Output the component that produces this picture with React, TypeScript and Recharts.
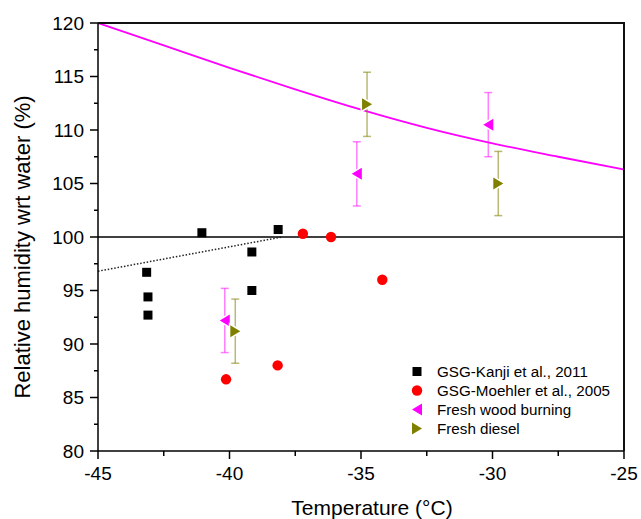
import React from "react";
import {
  ComposedChart,
  Scatter,
  Line,
  XAxis,
  YAxis,
  ReferenceLine,
  ErrorBar,
  Label,
  Legend,
} from "recharts";

// values
const kanjiTemp = [-43.15, -43.1, -43.1, -41.05, -39.15, -39.15, -38.15];
const kanjiRH = [96.7, 94.4, 92.7, 100.4, 98.6, 95.0, 100.7];

const moehlerTemp = [-40.13, -38.17, -37.21, -36.14, -34.19];
const moehlerRH = [86.7, 88.0, 100.3, 100.0, 96.0];

const woodTemp = [-40.18, -35.16, -30.16];
const woodRH = [92.2, 105.9, 110.5];
const woodErr = [3, 3, 3];

const dieselTemp = [-39.78, -34.77, -29.78];
const dieselRH = [91.2, 112.4, 105.0];
const dieselErr = [3, 3, 3];

const curveTemp = [-45, -42.5, -40, -37.5, -35, -32.5, -30, -27.5, -25];
const curveRH = [120, 117.9, 115.8, 113.8, 111.9, 110.2, 108.75, 107.5, 106.3];

const fitTemp = [-45, -38];
const fitRH = [96.8, 100];

const xTicks = [-45, -42.5, -40, -37.5, -35, -32.5, -30, -27.5, -25];
const yTicks = [80, 82.5, 85, 87.5, 90, 92.5, 95, 97.5, 100, 102.5, 105, 107.5, 110, 112.5, 115, 117.5, 120];

const zip = (xs: number[], ys: number[], errs?: number[]) =>
  xs.map((x, i) => ({ x, y: ys[i], err: errs ? errs[i] : 0 }));

const kanji = zip(kanjiTemp, kanjiRH);
const moehler = zip(moehlerTemp, moehlerRH);
const wood = zip(woodTemp, woodRH, woodErr);
const diesel = zip(dieselTemp, dieselRH, dieselErr);
const curve = zip(curveTemp, curveRH);
const fit = zip(fitTemp, fitRH);

const MAGENTA = "#ff00ff";
const OLIVE = "#808000";

const W = 641;
const H = 519;
const MARGIN = { top: 23, right: 17, left: 0, bottom: 0 };
const Y_AXIS_W = 98;
const X_AXIS_H = 68;

const SquareShape = (p: any) => (
  <rect x={p.cx - 4.5} y={p.cy - 4.5} width={9} height={9} fill="#000" />
);
const CircleShape = (p: any) => <circle cx={p.cx} cy={p.cy} r={5.2} fill="#ff0000" />;
const LeftTri = (p: any) => (
  <polygon
    points={`${p.cx - 5},${p.cy} ${p.cx + 5},${p.cy - 6} ${p.cx + 5},${p.cy + 6}`}
    fill={MAGENTA}
    stroke="#fff"
    strokeWidth={3}
    paintOrder="stroke"
  />
);
const RightTri = (p: any) => (
  <polygon
    points={`${p.cx + 5},${p.cy} ${p.cx - 5},${p.cy - 6} ${p.cx - 5},${p.cy + 6}`}
    fill={OLIVE}
    stroke="#fff"
    strokeWidth={3}
    paintOrder="stroke"
  />
);

const XTick = ({ x, y, payload }: any) => {
  const major = payload.value % 5 === 0;
  return (
    <g>
      <line x1={x} y1={y} x2={x} y2={y + (major ? 8 : 5)} stroke="#000" strokeWidth={1.5} />
      {major && (
        <text x={x} y={y + 29} textAnchor="middle" fontSize={19} fill="#000">
          {payload.value}
        </text>
      )}
    </g>
  );
};

const YTick = ({ x, y, payload }: any) => {
  const major = payload.value % 5 === 0;
  return (
    <g>
      <line x1={x - (major ? 8 : 4)} y1={y} x2={x} y2={y} stroke="#000" strokeWidth={1.5} />
      {major && (
        <text x={x - 14} y={y} dy="0.35em" textAnchor="end" fontSize={19} fill="#000">
          {payload.value}
        </text>
      )}
    </g>
  );
};

const legendItems = [
  { name: "GSG-Kanji et al., 2011", kind: "square" },
  { name: "GSG-Moehler et al., 2005", kind: "circle" },
  { name: "Fresh wood burning", kind: "left" },
  { name: "Fresh diesel", kind: "right" },
];

const LegendMarker = ({ kind }: { kind: string }) => {
  const cx = 10;
  const cy = 9.5;
  if (kind === "square") return <rect x={cx - 4.5} y={cy - 4.5} width={9} height={9} fill="#000" />;
  if (kind === "circle") return <circle cx={cx} cy={cy} r={5.2} fill="#ff0000" />;
  if (kind === "left")
    return <polygon points={`${cx - 5},${cy} ${cx + 5},${cy - 6} ${cx + 5},${cy + 6}`} fill={MAGENTA} />;
  return <polygon points={`${cx + 5},${cy} ${cx - 5},${cy - 6} ${cx - 5},${cy + 6}`} fill={OLIVE} />;
};

const LegendBox = () => (
  <div>
    {legendItems.map((it) => (
      <div key={it.name} style={{ display: "flex", alignItems: "center", height: 19 }}>
        <svg width={20} height={19}>
          <LegendMarker kind={it.kind} />
        </svg>
        <span style={{ marginLeft: 10, fontSize: 15.2, color: "#000", whiteSpace: "nowrap" }}>{it.name}</span>
      </div>
    ))}
  </div>
);

// plot box edges, from the same layout constants
const plotLeft = MARGIN.left + Y_AXIS_W;
const plotTop = MARGIN.top;
const plotRight = W - MARGIN.right;
const plotBottom = H - MARGIN.bottom - X_AXIS_H;

export default function App() {
  return (
    <div
      style={{
        position: "absolute",
        left: 0,
        top: 0,
        width: W,
        height: H,
        background: "#fff",
        fontFamily: "'Liberation Sans', Arial, sans-serif",
      }}
    >
      <ComposedChart width={W} height={H} margin={MARGIN}>
        <XAxis
          type="number"
          dataKey="x"
          domain={[-45, -25]}
          ticks={xTicks}
          interval={0}
          allowDataOverflow
          height={X_AXIS_H}
          axisLine={{ stroke: "#000", strokeWidth: 1.5 }}
          tickLine={false}
          tickSize={0}
          tickMargin={0}
          tick={<XTick />}
        >
          <Label
            content={(props: any) => {
              const vb = props.viewBox;
              return (
                <text x={vb.x + vb.width / 2 + 11} y={515} textAnchor="middle" fontSize={21} fill="#000">
                  Temperature (°C)
                </text>
              );
            }}
          />
        </XAxis>
        <YAxis
          type="number"
          dataKey="y"
          domain={[80, 120]}
          ticks={yTicks}
          interval={0}
          allowDataOverflow
          width={Y_AXIS_W}
          axisLine={{ stroke: "#000", strokeWidth: 1.5 }}
          tickLine={false}
          tickSize={0}
          tickMargin={0}
          tick={<YTick />}
        >
          <Label
            content={(props: any) => {
              const vb = props.viewBox;
              const cy = vb.y + vb.height / 2 + 10;
              return (
                <text
                  x={29.5}
                  y={cy}
                  transform={`rotate(-90, 29.5, ${cy})`}
                  textAnchor="middle"
                  fontSize={22}
                  fill="#000"
                >
                  Relative humidity wrt water (%)
                </text>
              );
            }}
          />
        </YAxis>
        <ReferenceLine y={100} stroke="#000" strokeWidth={1.3} />
        <Line
          data={curve}
          dataKey="y"
          type="monotone"
          stroke={MAGENTA}
          strokeWidth={1.8}
          dot={false}
          isAnimationActive={false}
          legendType="none"
        />
        <Line
          data={fit}
          dataKey="y"
          type="linear"
          stroke="#222"
          strokeWidth={1.5}
          strokeDasharray="1.5 1.8"
          dot={false}
          isAnimationActive={false}
          legendType="none"
        />
        <Scatter name="GSG-Kanji et al., 2011" data={kanji} dataKey="y" shape={SquareShape} isAnimationActive={false} />
        <Scatter
          name="GSG-Moehler et al., 2005"
          data={moehler}
          dataKey="y"
          shape={CircleShape}
          isAnimationActive={false}
        />
        <Scatter name="Fresh wood burning" data={wood} dataKey="y" shape={LeftTri} isAnimationActive={false}>
          <ErrorBar dataKey="err" direction="y" width={4} stroke={MAGENTA} strokeOpacity={0.5} strokeWidth={1.5} />
        </Scatter>
        <Scatter name="Fresh diesel" data={diesel} dataKey="y" shape={RightTri} isAnimationActive={false}>
          <ErrorBar dataKey="err" direction="y" width={4} stroke={OLIVE} strokeOpacity={0.55} strokeWidth={1.5} />
        </Scatter>
        <Legend
          layout="vertical"
          align="center"
          verticalAlign="middle"
          content={<LegendBox />}
          wrapperStyle={{ position: "absolute", left: 407, top: 362, width: 230, margin: 0 }}
        />
      </ComposedChart>
      {/* top and right edges of the plot box */}
      <div
        style={{
          position: "absolute",
          left: plotLeft,
          top: plotTop - 1,
          width: plotRight - plotLeft + 1,
          height: 2,
          background: "#111",
        }}
      />
      <div
        style={{
          position: "absolute",
          left: plotRight - 1,
          top: plotTop - 1,
          width: 2,
          height: plotBottom - plotTop + 1,
          background: "#111",
        }}
      />
    </div>
  );
}
